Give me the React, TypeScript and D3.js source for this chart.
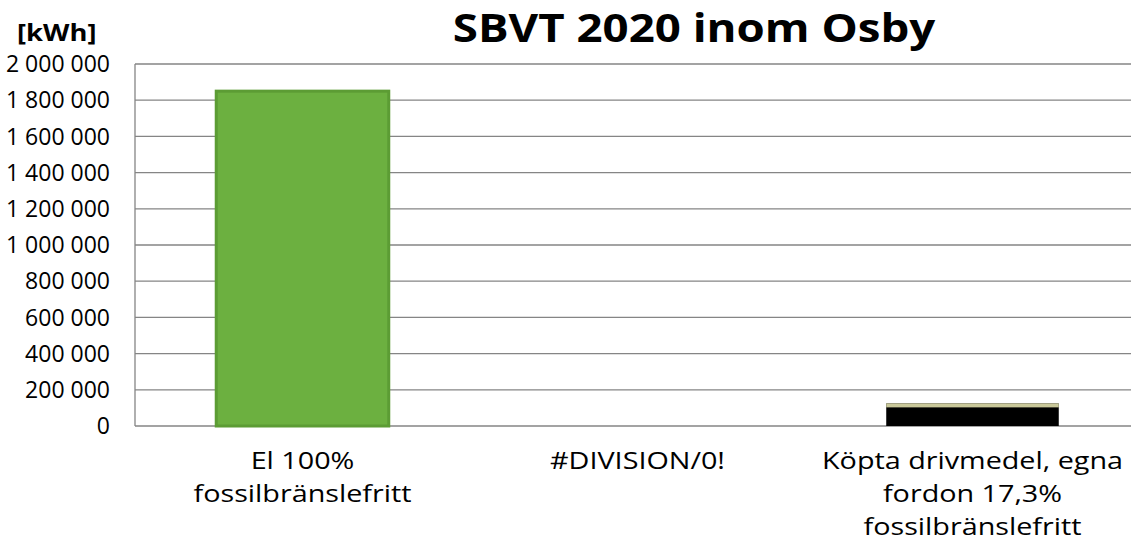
import React from "react";
import * as d3 from "d3";

const categories = ["El 100%\nfossilbränslefritt", "#DIVISION/0!", "Köpta drivmedel, egna\nfordon 17,3%\nfossilbränslefritt"];
const values: (number | null)[] = [1850000, null, 125000];
const barColors = ["#6cb040", "#000000", "#000000"];
const barEdges = ["#5c9c34", "#000000", "#c9c89a"];
const yTicks = [0, 200000, 400000, 600000, 800000, 1000000, 1200000, 1400000, 1600000, 1800000, 2000000];
const title = "SBVT 2020 inom Osby";
const unitLabel = "[kWh]";

const W = 1134, H = 552;
const M = { left: 135, right: 1131, top: 64, bottom: 426 };
const FONT = "'Open Sans', 'Liberation Sans', sans-serif";

const fmt = (v: number) => d3.format(",")(v).replace(/,/g, " ");

export default function App() {
  const x = d3.scaleBand<number>().domain(d3.range(categories.length)).range([M.left, 1140]).padding(0);
  const barW = x.bandwidth() * 0.515;
  const cx = (i: number) => x(i)! + x.bandwidth() / 2;
  const y = d3.scaleLinear().domain([0, 2000000]).range([M.bottom, M.top]);
  return (
    <svg width={W} height={H} style={{ position: "absolute", left: 0, top: 0, background: "#fff" }} fontFamily={FONT}>
      <rect x={0} y={0} width={W} height={H} fill="#fff" />
      {yTicks.map((t) => (
        <g key={t}>
          <line x1={M.left} x2={M.right} y1={y(t)} y2={y(t)} stroke="#858585" strokeWidth={1.3} />
          <text x={110} y={y(t)} dy="0.36em" textAnchor="end" fontSize={23} fill="#000">{fmt(t)}</text>
        </g>
      ))}
      <line x1={M.left} x2={M.left} y1={M.top} y2={M.bottom} stroke="#858585" strokeWidth={1.3} />
      {values.map((v, i) =>
        v == null ? null : (
          <g key={i}>
            <rect x={cx(i) - barW / 2} y={y(v)} width={barW} height={y(0) - y(v)} fill={barColors[i]} stroke={i === 0 ? barEdges[i] : "none"} strokeWidth={3} />
            {i !== 0 && <rect x={cx(i) - barW / 2} y={y(v)} width={barW} height={4} fill={barEdges[i]} />}
          </g>
        )
      )}
      {categories.map((c, i) => (
        <g key={i} transform={`translate(${cx(i)},469) scale(1.25,1)`}>
          <text textAnchor="middle" fontSize={23} fill="#000">
            {c.split("\n").map((line, j) => (
              <tspan key={j} x={0} y={j * 33}>{line}</tspan>
            ))}
          </text>
        </g>
      ))}
      <g transform="translate(694,42) scale(1.17,1)">
        <text textAnchor="middle" fontSize={39} fontWeight="bold" fill="#000">{title}</text>
      </g>
      <g transform="translate(17,41) scale(1.14,1)">
        <text fontSize={24} fontWeight="bold" fill="#000">{unitLabel}</text>
      </g>
    </svg>
  );
}
